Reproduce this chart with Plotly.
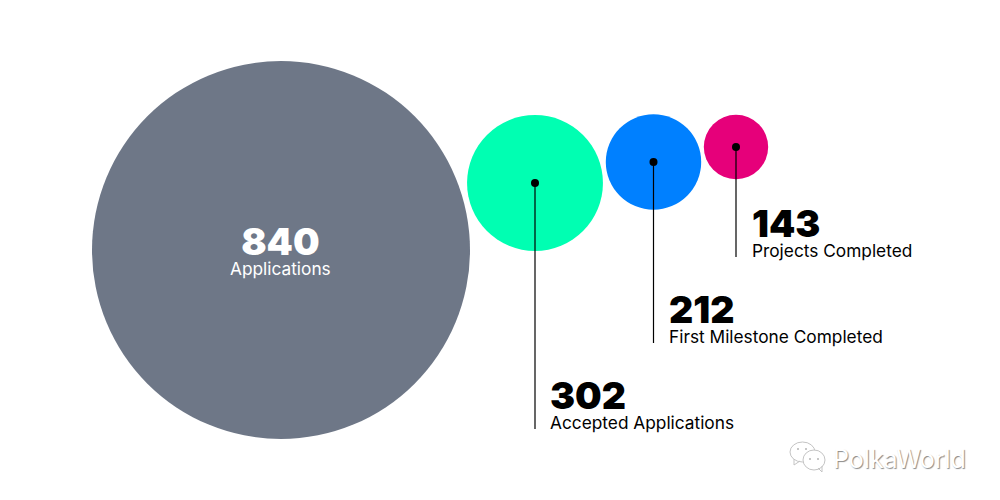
import plotly.graph_objects as go

labels = ["Applications", "Accepted Applications", "First Milestone Completed", "Projects Completed"]
values = [840, 302, 212, 143]
colors = ["#6e7787", "#00ffb2", "#0080ff", "#e6007a"]

# layout in pixel coordinates of the 1000x500 window (the page has an 8px margin)
cx = [281, 535, 653.5, 736]
cy = [250, 183, 162, 147]
leader_end = [None, 429, 343, 257]
text_x = [None, 550, 668.5, 752]
block_y = [None, 402.5, 316.5, 230.5]
PX_PER_UNIT = 0.45
OFF = 8

fig = go.Figure()
fig.add_trace(go.Scatter(
    x=cx, y=cy, mode="markers",
    marker=dict(size=[v * PX_PER_UNIT for v in values], color=colors, line=dict(width=0), opacity=1),
    hoverinfo="skip"))
for i in range(1, 4):
    fig.add_trace(go.Scatter(
        x=[cx[i], cx[i]], y=[cy[i], leader_end[i]], mode="lines",
        line=dict(color="#000000", width=1.2), hoverinfo="skip"))
fig.add_trace(go.Scatter(
    x=cx[1:], y=cy[1:], mode="markers",
    marker=dict(size=8, color="#000000"), hoverinfo="skip"))
# watermark eyes
fig.add_trace(go.Scatter(
    x=[798, 806, 810, 818], y=[449, 449, 459, 459], mode="markers",
    marker=dict(size=2, color="#b5b5b5"), hoverinfo="skip"))


def block(value, label):
    return (f'<span style="font-size:37.5px;font-weight:900">{value}</span><br>'
            f'<span style="font-size:17.3px">{label}</span>')


anns = [dict(x=280.5, y=248.5, text=block(values[0], labels[0]), xanchor="center", yanchor="middle",
             align="center", font=dict(family="Inter", size=15.6, color="#ffffff"))]
for i in range(1, 4):
    anns.append(dict(x=text_x[i], y=block_y[i], text=block(values[i], labels[i]), xanchor="left",
                     yanchor="middle", align="left",
                     font=dict(family="Inter", size=15.6, color="#000000")))
anns.append(dict(x=833, y=459, text="PolkaWorld", xanchor="left", yanchor="middle",
                 font=dict(family="Inter", size=25, color="#ffffff",
                           shadow="1px 1px 1px #8a8a8a")))
for a in anns:
    a.update(showarrow=False, xref="x", yref="y", borderpad=0, borderwidth=0)

shapes = []
for (x0, y0, x1, y1) in [(790, 442, 815, 462), (803, 450, 825, 470)]:
    shapes.append(dict(type="circle", xref="x", yref="y", x0=x0, y0=y0, x1=x1, y1=y1,
                       line=dict(color="#c4c4c4", width=1), fillcolor="#ffffff", layer="below"))
for path in ["M 794 459 L 794 465 L 800 461", "M 818 468 L 822 472 L 822 466"]:
    shapes.append(dict(type="path", xref="x", yref="y", path=path,
                       line=dict(color="#c4c4c4", width=1), layer="below"))

fig.update_layout(
    width=1000 - OFF, height=500 - OFF, margin=dict(l=0, r=0, t=0, b=0),
    paper_bgcolor="#ffffff", plot_bgcolor="#ffffff", showlegend=False,
    xaxis=dict(range=[OFF, 1000], visible=False, fixedrange=True),
    yaxis=dict(range=[500, OFF], visible=False, fixedrange=True),
    annotations=anns, shapes=shapes)
fig.write_html("out.html", config={"displayModeBar": False})
